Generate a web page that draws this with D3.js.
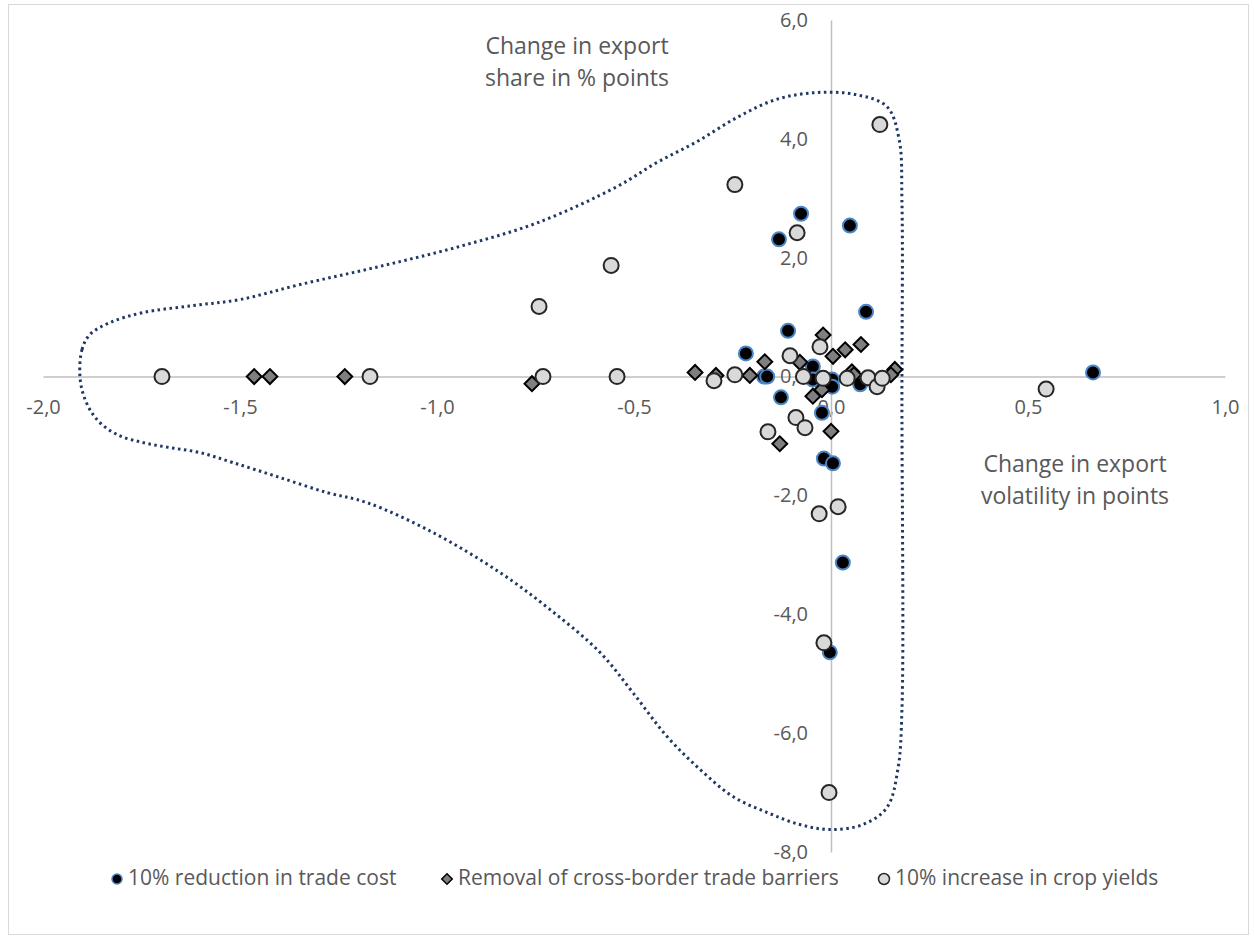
<!DOCTYPE html>
<html><head><meta charset="utf-8">
<script src="https://cdn.jsdelivr.net/npm/d3@7/dist/d3.min.js"></script>
<style>body{margin:0;background:#fff}svg{display:block}text{font-family:"Open Sans",sans-serif;fill:#595959}</style>
</head><body><svg id="c" width="1254" height="941"></svg>
<script>
// ---- data ----
const seriesNames = ["10% reduction in trade cost","Removal of cross-border trade barriers","10% increase in crop yields"];
const tradeCostX = [-0.132,-0.076,0.048,0.089,-0.109,-0.216,-0.170,-0.162,-0.127,-0.046,-0.046,0.003,0.074,0.003,-0.023,-0.018,0.005,0.030,-0.003,0.665];
const tradeCostY = [2.31,2.74,2.54,1.09,0.77,0.39,0.00,0.00,-0.35,0.17,-0.05,-0.05,-0.13,-0.17,-0.61,-1.38,-1.46,-3.13,-4.64,0.07];
const barriersX = [-1.464,-1.424,-1.234,-0.759,-0.345,-0.292,-0.206,-0.168,-0.079,-0.020,0.005,0.036,0.076,0.053,0.058,0.162,0.152,-0.046,-0.023,0.000,-0.130];
const barriersY = [0.00,0.00,0.00,-0.12,0.07,0.02,0.02,0.25,0.24,0.70,0.34,0.45,0.54,0.08,0.03,0.12,0.03,-0.33,-0.22,-0.92,-1.13];
const yieldsX = [-1.698,-1.170,-0.741,-0.731,-0.543,-0.558,-0.244,-0.086,0.124,-0.297,-0.244,-0.104,-0.070,-0.028,-0.020,0.041,0.094,0.117,0.130,-0.089,-0.066,-0.160,0.018,-0.030,-0.018,-0.005,0.546];
const yieldsY = [0.00,0.00,1.18,0.00,0.00,1.87,3.23,2.42,4.24,-0.07,0.03,0.35,0.00,0.50,-0.03,-0.03,-0.02,-0.17,-0.03,-0.69,-0.86,-0.93,-2.19,-2.31,-4.48,-7.00,-0.21];
const outlineX = [-1.906,-1.901,-1.881,-1.830,-1.746,-1.619,-1.500,-1.348,-1.147,-0.944,-0.744,-0.543,-0.442,-0.340,-0.239,-0.140,-0.038,0.063,0.142,0.173,0.180,0.180,0.180,0.170,0.142,0.081,-0.003,-0.079,-0.162,-0.249,-0.332,-0.416,-0.503,-0.586,-0.713,-0.840,-1.010,-1.178,-1.279,-1.406,-1.518,-1.602,-1.678,-1.746,-1.812,-1.863,-1.893];
const outlineY = [-0.017,0.454,0.707,0.909,1.077,1.195,1.296,1.548,1.851,2.187,2.591,3.197,3.601,3.954,4.358,4.661,4.779,4.745,4.543,3.988,2.961,-0.387,-5.620,-6.596,-7.252,-7.538,-7.622,-7.538,-7.336,-7.067,-6.613,-6.058,-5.317,-4.644,-3.921,-3.298,-2.625,-2.120,-1.952,-1.683,-1.447,-1.279,-1.195,-1.111,-0.976,-0.724,-0.387];
const xTicks = [-2,-1.5,-1,-0.5,0,0.5,1];
const yTicks = [6,4,2,0,-2,-4,-6,-8];
const yTitle = ["Change in export","share in % points"];
const xTitle = ["Change in export","volatility in points"];

// ---- drawing ----
const svg = d3.select("#c");
const x = d3.scaleLinear().domain([-2,1]).range([43,1225]);
const y = d3.scaleLinear().domain([-8,6]).range([852,20]);
const fmt = d => d3.format(".1f")(d).replace("−","-").replace(".",",");

svg.append("rect").attr("x",8.5).attr("y",4.5).attr("width",1240).attr("height",930)
  .attr("fill","none").attr("stroke","#d9d9d9").attr("stroke-width",1);

const xAxis = svg.append("g").attr("transform",`translate(0,${y(0)})`)
  .call(d3.axisBottom(x).tickValues(xTicks).tickSize(0).tickPadding(23).tickFormat(fmt));
const yAxis = svg.append("g").attr("transform",`translate(${x(0)},0)`)
  .call(d3.axisLeft(y).tickValues(yTicks).tickSize(0).tickPadding(23).tickFormat(fmt));
[xAxis,yAxis].forEach(g=>{
  g.select(".domain").attr("stroke","#bfbfbf").attr("stroke-width",1.5);
  g.selectAll("text").attr("fill","#595959").style("font-size","20px").style("font-family",'"Open Sans",sans-serif');
});

// outline
const outline = outlineX.map((v,i)=>[v,outlineY[i]]);
svg.append("path").datum(outline)
  .attr("d", d3.line().x(d=>x(d[0])).y(d=>y(d[1])).curve(d3.curveCatmullRomClosed.alpha(0.5)))
  .attr("fill","none").attr("stroke","#1f3864").attr("stroke-width",3).attr("stroke-dasharray","2.5,3.5");

const s1 = tradeCostX.map((v,i)=>[v,tradeCostY[i]]);
const s2 = barriersX.map((v,i)=>[v,barriersY[i]]);
const s3 = yieldsX.map((v,i)=>[v,yieldsY[i]]);

svg.append("g").selectAll("circle").data(s1).join("circle")
  .attr("cx",d=>x(d[0])).attr("cy",d=>y(d[1])).attr("r",7)
  .attr("fill","#000").attr("stroke","#4a86c8").attr("stroke-width",2);
const diamond = d3.symbol().type(d3.symbolSquare).size(110);
svg.append("g").selectAll("path").data(s2).join("path")
  .attr("d",diamond).attr("transform",d=>`translate(${x(d[0])},${y(d[1])}) rotate(45)`)
  .attr("fill","#7f7f7f").attr("stroke","#000").attr("stroke-width",2);
svg.append("g").selectAll("circle").data(s3).join("circle")
  .attr("cx",d=>x(d[0])).attr("cy",d=>y(d[1])).attr("r",7.5)
  .attr("fill","#d9d9d9").attr("stroke","#262626").attr("stroke-width",2);

// titles
svg.append("text").attr("y",48).attr("text-anchor","middle").attr("dominant-baseline","middle")
  .style("font-size","23px").selectAll("tspan").data(yTitle).join("tspan")
  .attr("x",577).attr("dy",(d,i)=>i?32:0).text(d=>d);
svg.append("text").attr("y",466).attr("text-anchor","middle").attr("dominant-baseline","middle")
  .style("font-size","23px").selectAll("tspan").data(xTitle).join("tspan")
  .attr("x",1075).attr("dy",(d,i)=>i?32:0).text(d=>d);

// legend
const lg = svg.append("g").attr("transform","translate(0,879)");
const legX = [117,447,884];
lg.append("circle").attr("cx",legX[0]).attr("cy",0).attr("r",5).attr("fill","#000").attr("stroke","#4a86c8").attr("stroke-width",1.5);
lg.append("path").attr("d",d3.symbol().type(d3.symbolSquare).size(55)).attr("transform",`translate(${legX[1]},0) rotate(45)`)
  .attr("fill","#7f7f7f").attr("stroke","#000").attr("stroke-width",1.5);
lg.append("circle").attr("cx",legX[2]).attr("cy",0).attr("r",5.5).attr("fill","#d9d9d9").attr("stroke","#262626").attr("stroke-width",1.5);
lg.selectAll("text.l").data(seriesNames).join("text").attr("class","l")
  .attr("x",(d,i)=>legX[i]+11).attr("y",0).attr("dominant-baseline","middle")
  .style("font-size","21px").text(d=>d);
</script></body></html>
